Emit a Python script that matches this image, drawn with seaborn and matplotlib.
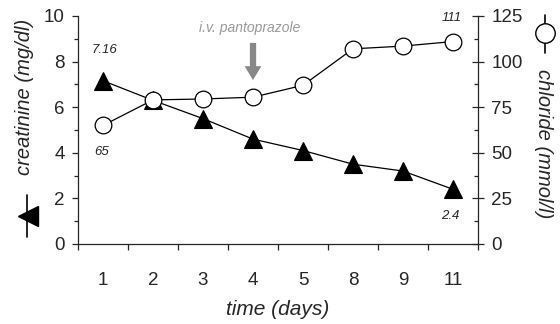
import matplotlib.pyplot as plt
import numpy as np
import seaborn as sns
from matplotlib.lines import Line2D

days = ["1", "2", "3", "4", "5", "8", "9", "11"]
creatinine = [7.16, 6.3, 5.5, 4.6, 4.1, 3.5, 3.2, 2.4]
chloride = [65, 79, 79.5, 80.5, 87, 107, 108.5, 111]

sns.set_style("ticks")
plt.rcParams["font.family"] = ["Liberation Sans", "DejaVu Sans"]

W, H = 560, 324
fig = plt.figure(figsize=(W / 100, H / 100), dpi=100)
ax = fig.add_axes([78 / W, 1 - 244 / H, 400 / W, 228 / H])
ax2 = ax.twinx()

pos = np.arange(len(days))

sns.lineplot(x=pos, y=creatinine, ax=ax, color="black", linewidth=0.9,
             marker="^", markersize=13, mec="black", mew=0.8)
sns.lineplot(x=pos, y=chloride, ax=ax2, color="black", linewidth=0.9,
             marker="o", markersize=12, mfc="white", mec="black", mew=0.9)

# axes ranges and ticks
ax.set_xlim(-0.5, len(days) - 0.5)
ax.set_ylim(0, 10)
ax2.set_ylim(0, 125)
ax.set_xticks(pos)
ax.set_xticklabels(days)
ax.set_xticks(np.arange(len(days) + 1) - 0.5, minor=True)
ax.set_yticks(range(0, 11, 2))
ax.set_yticks(range(1, 10, 2), minor=True)
ax2.set_yticks(range(0, 126, 25))
ax2.set_yticks(np.arange(12.5, 125, 25), minor=True)

ax.tick_params(axis="x", which="major", length=0, pad=20, labelsize=13.5)
ax.tick_params(axis="x", which="minor", length=4.5, width=0.9, direction="out")
ax.tick_params(axis="y", which="major", length=4.5, width=0.9, direction="out", pad=5, labelsize=13.5)
ax.tick_params(axis="y", which="minor", length=3, width=0.9, direction="out")
ax2.tick_params(axis="y", which="major", length=9, width=0.9, direction="inout", pad=5, labelsize=13.5)
ax2.tick_params(axis="y", which="minor", length=3, width=0.9, direction="in")

for a in (ax, ax2):
    a.spines["top"].set_visible(False)
    for s in a.spines.values():
        s.set_linewidth(0.9)
ax.spines["right"].set_visible(False)
ax2.spines["left"].set_visible(False)
ax2.spines["bottom"].set_visible(False)

ax.set_xlabel("time (days)", fontsize=15, style="italic", labelpad=8)
ax.set_ylabel("")
ax2.set_ylabel("")

# value annotations
ax.annotate("7.16", (pos[0], creatinine[0]), xytext=(1, 22), textcoords="offset points",
            ha="center", va="center", fontsize=9.5, style="italic")
ax.annotate("2.4", (pos[-1], creatinine[-1]), xytext=(-2, -19), textcoords="offset points",
            ha="center", va="center", fontsize=9.5, style="italic")
ax2.annotate("65", (pos[0], chloride[0]), xytext=(-1, -19), textcoords="offset points",
             ha="center", va="center", fontsize=9.5, style="italic")
ax2.annotate("111", (pos[-1], chloride[-1]), xytext=(-1, 17), textcoords="offset points",
             ha="center", va="center", fontsize=9.5, style="italic")

# treatment marker
i4 = days.index("4")
ax.annotate("", xy=(pos[i4], 7.19), xytext=(pos[i4], 8.82),
            arrowprops=dict(facecolor="#888888", edgecolor="none", width=4.5,
                            headwidth=12, headlength=10, shrink=0))
ax.text(pos[i4] - 0.06, 9.47, "i.v. pantoprazole", ha="center", va="center",
        fontsize=10, style="italic", color="#999999")

# axis titles with symbol keys
fig.text(25 / W, 1 - 97 / H, "creatinine (mg/dl)", rotation=90, ha="center", va="center",
         fontsize=14.5, style="italic")
fig.text(544 / W, 1 - 144 / H, "chloride (mmol/l)", rotation=270, ha="center", va="center",
         fontsize=14.5, style="italic")

fig.add_artist(Line2D([27 / W, 27 / W], [1 - 195 / H, 1 - 237 / H], transform=fig.transFigure,
                      color="black", linewidth=1.2))
fig.add_artist(Line2D([27.5 / W], [1 - 216 / H], transform=fig.transFigure, marker="<",
                      markersize=15, color="black", linestyle="none"))
fig.add_artist(Line2D([545 / W, 545 / W], [1 - 15 / H, 1 - 53 / H], transform=fig.transFigure,
                      color="black", linewidth=1.2))
fig.add_artist(Line2D([545 / W], [1 - 33 / H], transform=fig.transFigure, marker="o",
                      markersize=14, mfc="white", mec="black", mew=1, linestyle="none"))

fig.savefig("out.png", dpi=100)
